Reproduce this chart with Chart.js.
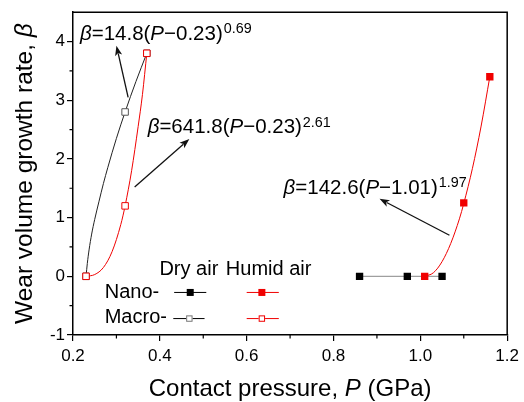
<!DOCTYPE html>
<html>
<head>
<meta charset="utf-8">
<script src="https://cdn.jsdelivr.net/npm/chart.js@4.4.1/dist/chart.umd.min.js"></script>
<style>
  html, body { margin: 0; padding: 0; background: #fff; }
  #wear { display: block; }
</style>
</head>
<body>
<canvas id="wear" width="524" height="402"></canvas>
<script>
// tick values
const xTicks = [0.2, 0.4, 0.6, 0.8, 1.0, 1.2];
const yTicks = [-1, 0, 1, 2, 3, 4];
const xMinor = [0.3, 0.5, 0.7, 0.9, 1.1];
const yMinor = [-0.5, 0.5, 1.5, 2.5, 3.5];

// measured points: contact pressure P (GPa) vs growth rate beta
const nanoDryP = [0.86, 0.97, 1.05];
const nanoDryB = [0, 0, 0];
const nanoHumidP = [1.01, 1.10, 1.16];
const nanoHumidB = [0, 1.25, 3.4];
const macroDryP = [0.23, 0.32, 0.37];
const macroDryB = [0, 2.8, 3.8];
const macroHumidP = [0.23, 0.32, 0.37];
const macroHumidB = [0, 1.2, 3.8];

// fitted curves
const fitMacroDryP = [0.23, 0.233, 0.237, 0.243, 0.25, 0.26, 0.27, 0.28, 0.30, 0.32, 0.345, 0.37];
const fitMacroDryB = [0, 0.22, 0.45, 0.72, 0.97, 1.28, 1.58, 1.85, 2.35, 2.8, 3.32, 3.8];
const fitMacroHumidP = [0.23, 0.25, 0.27, 0.29, 0.31, 0.32, 0.335, 0.35, 0.36, 0.37];
const fitMacroHumidB = [0, 0.03, 0.15, 0.42, 0.88, 1.2, 1.8, 2.55, 3.1, 3.8];
const fitNanoHumidP = [1.01, 1.03, 1.05, 1.07, 1.09, 1.10, 1.12, 1.14, 1.16];
const fitNanoHumidB = [0, 0.06, 0.25, 0.56, 0.98, 1.24, 1.84, 2.56, 3.4];

const RED = '#f00000';
const FONT = '"Liberation Sans", Arial, sans-serif';

const pts = (xs, ys) => xs.map((x, i) => ({ x: x, y: ys[i] }));

// draws a run of text pieces: n = normal, i = italic, s = superscript
function segFont(st, size) {
  return (st === 'i' ? 'italic ' : '') + (st === 's' ? size * 0.7 : size) + 'px ' + FONT;
}
function mixedWidth(ctx, segs, size) {
  let w = 0;
  segs.forEach(([t, st]) => {
    ctx.font = segFont(st, size);
    w += ctx.measureText(t).width;
  });
  return w;
}
function mixedText(ctx, segs, x, y, size) {
  ctx.textBaseline = 'alphabetic';
  ctx.textAlign = 'left';
  segs.forEach(([t, st]) => {
    ctx.font = segFont(st, size);
    ctx.fillText(t, x + (st === 's' ? 1 : 0), st === 's' ? y - size * 0.32 : y);
    x += ctx.measureText(t).width + (st === 's' ? 1 : 0);
  });
}
function arrow(ctx, x1, y1, x2, y2) {
  const a = Math.atan2(y2 - y1, x2 - x1);
  const L = 10, H = 3.6;
  ctx.strokeStyle = '#111';
  ctx.fillStyle = '#111';
  ctx.lineWidth = 1.3;
  ctx.beginPath();
  ctx.moveTo(x1, y1);
  ctx.lineTo(x2 - Math.cos(a) * L * 0.8, y2 - Math.sin(a) * L * 0.8);
  ctx.stroke();
  ctx.beginPath();
  ctx.moveTo(x2, y2);
  ctx.lineTo(x2 - Math.cos(a) * L - Math.sin(a) * H, y2 - Math.sin(a) * L + Math.cos(a) * H);
  ctx.lineTo(x2 - Math.cos(a) * L * 0.75, y2 - Math.sin(a) * L * 0.75);
  ctx.lineTo(x2 - Math.cos(a) * L + Math.sin(a) * H, y2 - Math.sin(a) * L - Math.cos(a) * H);
  ctx.closePath();
  ctx.fill();
}
function square(ctx, x, y, half, filled, color) {
  ctx.lineWidth = 1;
  ctx.strokeStyle = color;
  if (filled) {
    ctx.fillStyle = color;
    ctx.fillRect(x - half, y - half, half * 2, half * 2);
  } else {
    ctx.fillStyle = '#fff';
    ctx.fillRect(x - half, y - half, half * 2, half * 2);
    ctx.strokeRect(x - half + 0.5, y - half + 0.5, half * 2 - 1, half * 2 - 1);
  }
}

const decorations = {
  id: 'decorations',
  afterDraw(chart) {
    const ctx = chart.ctx;
    const sx = chart.scales.x, sy = chart.scales.y;
    const X = v => sx.getPixelForValue(v);
    const Y = v => sy.getPixelForValue(v);
    const area = chart.chartArea;
    ctx.save();

    // top and right frame
    ctx.strokeStyle = '#000';
    ctx.lineWidth = 1.5;
    ctx.beginPath();
    ctx.moveTo(area.left, area.top);
    ctx.lineTo(area.right, area.top);
    ctx.lineTo(area.right, area.bottom);
    ctx.stroke();

    // minor ticks
    ctx.lineWidth = 1.2;
    ctx.beginPath();
    xMinor.forEach(v => { ctx.moveTo(X(v), area.bottom); ctx.lineTo(X(v), area.bottom + 3.5); });
    yMinor.forEach(v => { ctx.moveTo(area.left, Y(v)); ctx.lineTo(area.left - 3.5, Y(v)); });
    ctx.stroke();

    // axis titles
    ctx.fillStyle = '#000';
    const xt = [['Contact pressure, ', 'n'], ['P', 'i'], [' (GPa)', 'n']];
    const xw = mixedWidth(ctx, xt, 24);
    mixedText(ctx, xt, (area.left + area.right) / 2 - xw / 2, 396, 24);
    const yt = [['Wear volume growth rate, ', 'n'], ['\u03b2', 'i']];
    const yw = mixedWidth(ctx, yt, 24.5);
    ctx.save();
    ctx.translate(32, (area.top + area.bottom) / 2);
    ctx.rotate(-Math.PI / 2);
    mixedText(ctx, yt, -yw / 2, 0, 24.5);
    ctx.restore();

    // fit equations and arrows
    const asize = 20.5;
    ctx.fillStyle = '#000';
    mixedText(ctx, [['\u03b2', 'i'], ['=14.8(', 'n'], ['P', 'i'], ['\u22120.23)', 'n'], ['0.69', 's']], X(0.216), Y(4.03), asize);
    mixedText(ctx, [['\u03b2', 'i'], ['=641.8(', 'n'], ['P', 'i'], ['\u22120.23)', 'n'], ['2.61', 's']], X(0.372), Y(2.44), asize);
    mixedText(ctx, [['\u03b2', 'i'], ['=142.6(', 'n'], ['P', 'i'], ['\u22121.01)', 'n'], ['1.97', 's']], X(0.685), Y(1.41), asize);
    arrow(ctx, X(0.327), Y(3.05), X(0.300), Y(3.93));
    arrow(ctx, X(0.342), Y(1.52), X(0.468), Y(2.34));
    arrow(ctx, X(1.067), Y(0.70), X(0.906), Y(1.32));

    // legend block
    ctx.fillStyle = '#000';
    ctx.font = '20px ' + FONT;
    ctx.textAlign = 'left';
    ctx.textBaseline = 'alphabetic';
    ctx.fillText('Dry air', X(0.399), Y(0.03));
    ctx.fillText('Humid air', X(0.552), Y(0.03));
    ctx.fillText('Nano-', X(0.273), Y(-0.37));
    ctx.fillText('Macro-', X(0.273), Y(-0.79));
    const rowN = Y(-0.275), rowM = Y(-0.72);
    ctx.lineWidth = 1;
    ctx.strokeStyle = '#000';
    ctx.beginPath(); ctx.moveTo(X(0.433), rowN); ctx.lineTo(X(0.507), rowN); ctx.stroke();
    ctx.beginPath(); ctx.moveTo(X(0.431), rowM); ctx.lineTo(X(0.503), rowM); ctx.stroke();
    ctx.strokeStyle = RED;
    ctx.beginPath(); ctx.moveTo(X(0.600), rowN); ctx.lineTo(X(0.674), rowN); ctx.stroke();
    ctx.beginPath(); ctx.moveTo(X(0.600), rowM); ctx.lineTo(X(0.674), rowM); ctx.stroke();
    square(ctx, X(0.470), rowN, 3.5, true, '#000');
    square(ctx, X(0.635), rowN, 3.5, true, RED);
    square(ctx, X(0.468), rowM, 3.2, false, '#777');
    square(ctx, X(0.635), rowM, 3.2, false, RED);
    ctx.restore();
  }
};

const ctx = document.getElementById('wear').getContext('2d');
new Chart(ctx, {
  type: 'scatter',
  data: {
    datasets: [
      { label: 'Macro- humid air', data: pts(macroHumidP, macroHumidB), showLine: false,
        pointStyle: 'rect', pointRadius: 4.6, borderWidth: 1, borderColor: RED, backgroundColor: '#fff' },
      { label: 'Nano- humid air', data: pts(nanoHumidP, nanoHumidB), showLine: false,
        pointStyle: 'rect', pointRadius: 5.2, borderWidth: 0, borderColor: RED, backgroundColor: RED },
      { label: 'Macro- dry air', data: pts(macroDryP, macroDryB), showLine: false,
        pointStyle: 'rect', pointRadius: 4.6, borderWidth: 1, borderColor: '#555', backgroundColor: '#fff' },
      { label: 'Nano- dry air', data: pts(nanoDryP, nanoDryB), showLine: true,
        pointStyle: 'rect', pointRadius: 5.2, pointBorderWidth: 0, borderWidth: 1,
        borderColor: '#888', pointBackgroundColor: '#000', backgroundColor: '#000' },
      { label: 'fit macro humid', data: pts(fitMacroHumidP, fitMacroHumidB), showLine: true,
        pointRadius: 0, borderWidth: 1, borderColor: RED, cubicInterpolationMode: 'monotone' },
      { label: 'fit nano humid', data: pts(fitNanoHumidP, fitNanoHumidB), showLine: true,
        pointRadius: 0, borderWidth: 1, borderColor: RED, cubicInterpolationMode: 'monotone' },
      { label: 'fit macro dry', data: pts(fitMacroDryP, fitMacroDryB), showLine: true,
        pointRadius: 0, borderWidth: 1, borderColor: '#222', cubicInterpolationMode: 'monotone' }
    ]
  },
  options: {
    responsive: false,
    animation: false,
    layout: { padding: { left: 0, right: 14, top: 10, bottom: 0 } },
    plugins: { legend: { display: false }, tooltip: { enabled: false } },
    scales: {
      x: {
        type: 'linear', min: 0.2, max: 1.2,
        afterBuildTicks: s => { s.ticks = xTicks.map(v => ({ value: v })); },
        afterFit: s => { s.height = 67; },
        grid: { display: true, drawOnChartArea: false, drawTicks: true, tickLength: 6, color: '#000', lineWidth: 1.2 },
        border: { display: true, color: '#000', width: 1.5 },
        ticks: { color: '#000', padding: 5, font: { family: FONT, size: 17 }, callback: v => v.toFixed(1) },
        title: { display: false }
      },
      y: {
        type: 'linear', min: -1, max: 4.5,
        afterBuildTicks: s => { s.ticks = yTicks.map(v => ({ value: v })); },
        afterFit: s => { s.width = 73; },
        grid: { display: true, drawOnChartArea: false, drawTicks: true, tickLength: 6, color: '#000', lineWidth: 1.2 },
        border: { display: true, color: '#000', width: 1.5 },
        ticks: { color: '#000', padding: 2, font: { family: FONT, size: 17 }, callback: v => String(v) },
        title: { display: false }
      }
    }
  },
  plugins: [decorations]
});
</script>
</body>
</html>
